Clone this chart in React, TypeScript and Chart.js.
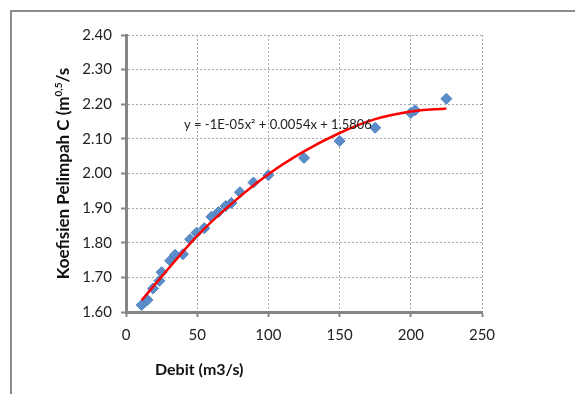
import React, { useEffect, useRef } from 'react';
import { Chart, registerables } from 'chart.js';

Chart.register(...registerables);

// Observed points: Debit (m3/s) vs Koefisien Pelimpah C
const debit = [11, 15, 19, 23.5, 25, 31, 34.5, 40, 45, 49.5, 55, 60, 65, 70, 74, 80, 89.5, 100, 125, 150, 175, 200, 203, 225];
const koef = [1.620, 1.635, 1.668, 1.690, 1.715, 1.748, 1.765, 1.767, 1.810, 1.829, 1.842, 1.875, 1.889, 1.906, 1.915, 1.946, 1.974, 1.995, 2.045, 2.094, 2.132, 2.175, 2.183, 2.216];

// Trendline values
const trendX = [11, 25, 50, 75, 100, 125, 150, 175, 200, 225];
const trendY = [1.634, 1.702, 1.820, 1.916, 1.998, 2.064, 2.117, 2.157, 2.179, 2.188];

const xTicks = [0, 50, 100, 150, 200, 250];
const yTicks = [1.6, 1.7, 1.8, 1.9, 2.0, 2.1, 2.2, 2.3, 2.4];

const xTitle = 'Debit (m3/s)';
const yTitleMain = 'Koefisien Pelimpah C (m';
const yTitleSup = '0,5';
const yTitleTail = '/s';
const equation = 'y = -1E-05x² + 0.0054x + 1.5806';
const equationAt = { x: 40.7, y: 2.142 };

const FONT = 'Lato, "Open Sans", sans-serif';

const titlesPlugin = {
  id: 'titles',
  afterDraw(chart: any) {
    const { ctx, chartArea, scales } = chart;
    ctx.save();
    ctx.fillStyle = '#111';
    // x title
    ctx.font = `bold 16px ${FONT}`;
    ctx.textBaseline = 'middle';
    ctx.textAlign = 'left';
    ctx.fillText(xTitle, chartArea.left + 29, chartArea.bottom + 58);
    // equation
    ctx.font = `13px ${FONT}`;
    ctx.fillStyle = '#222';
    ctx.fillText(equation, scales.x.getPixelForValue(equationAt.x), scales.y.getPixelForValue(equationAt.y));
    // y title (rotated, with superscript)
    ctx.fillStyle = '#111';
    ctx.translate(64, (chartArea.top + chartArea.bottom) / 2);
    ctx.rotate(-Math.PI / 2);
    const mainFont = `bold 17px ${FONT}`;
    const supFont = `bold 10px ${FONT}`;
    ctx.font = mainFont;
    const w1 = ctx.measureText(yTitleMain).width;
    const w3 = ctx.measureText(yTitleTail).width;
    ctx.font = supFont;
    const w2 = ctx.measureText(yTitleSup).width;
    let x = -(w1 + w2 + w3) / 2;
    ctx.textAlign = 'left';
    ctx.font = mainFont;
    ctx.fillText(yTitleMain, x, 0);
    x += w1;
    ctx.font = supFont;
    ctx.fillText(yTitleSup, x, -5);
    x += w2;
    ctx.font = mainFont;
    ctx.fillText(yTitleTail, x, 0);
    ctx.restore();
  },
};

export default function App() {
  const ref = useRef<HTMLCanvasElement | null>(null);

  useEffect(() => {
    if (!ref.current) return;
    const chart = new Chart(ref.current, {
      type: 'scatter',
      data: {
        datasets: [
          {
            type: 'line',
            label: 'Trend',
            data: trendX.map((x, i) => ({ x, y: trendY[i] })),
            borderColor: '#ff0000',
            borderWidth: 2.5,
            pointRadius: 0,
            fill: false,
            cubicInterpolationMode: 'monotone',
            order: 0,
          } as any,
          {
            label: 'C',
            data: debit.map((x, i) => ({ x, y: koef[i] })),
            pointStyle: 'rectRot',
            pointRadius: 5.5,
            backgroundColor: '#5b8dcb',
            borderColor: '#4f81bd',
            borderWidth: 1,
            order: 1,
          },
        ],
      },
      options: {
        responsive: false,
        animation: false,
        layout: { padding: { left: 0, top: 35, right: 93, bottom: 0 } },
        plugins: { legend: { display: false }, tooltip: { enabled: false } },
        scales: {
          x: {
            type: 'linear',
            min: 0,
            max: 250,
            afterBuildTicks: (s: any) => { s.ticks = xTicks.map((v) => ({ value: v })); },
            afterFit: (s: any) => { s.height = 82; },
            grid: { color: '#a8a8a8', lineWidth: 1, tickColor: '#868686', tickWidth: 2, tickLength: 5 },
            border: { color: '#868686', width: 3, dash: [2, 2] },
            ticks: { font: { family: FONT, size: 15 }, color: '#222', padding: 9, maxRotation: 0 },
          },
          y: {
            type: 'linear',
            min: 1.6,
            max: 2.4,
            afterBuildTicks: (s: any) => { s.ticks = yTicks.map((v) => ({ value: v })); },
            afterFit: (s: any) => { s.width = 126; },
            grid: { color: '#a8a8a8', lineWidth: 1, tickColor: '#868686', tickWidth: 2, tickLength: 5 },
            border: { color: '#868686', width: 3, dash: [2, 2] },
            ticks: {
              font: { family: FONT, size: 15 },
              color: '#222',
              padding: 9,
              callback: (v: any) => Number(v).toFixed(2),
            },
          },
        },
      },
      plugins: [titlesPlugin],
    });
    return () => chart.destroy();
  }, []);

  return (
    <div style={{ position: 'fixed', left: 0, top: 0, width: 575, height: 394, background: '#fff', overflow: 'hidden' }}>
      <div
        style={{
          position: 'absolute',
          left: 10,
          top: 10,
          width: 620,
          height: 440,
          borderLeft: '2px solid #8c8c8c',
          borderTop: '2px solid #8c8c8c',
        }}
      />
      <canvas ref={ref} width={575} height={394} style={{ position: 'absolute', left: 0, top: 0 }} />
    </div>
  );
}
